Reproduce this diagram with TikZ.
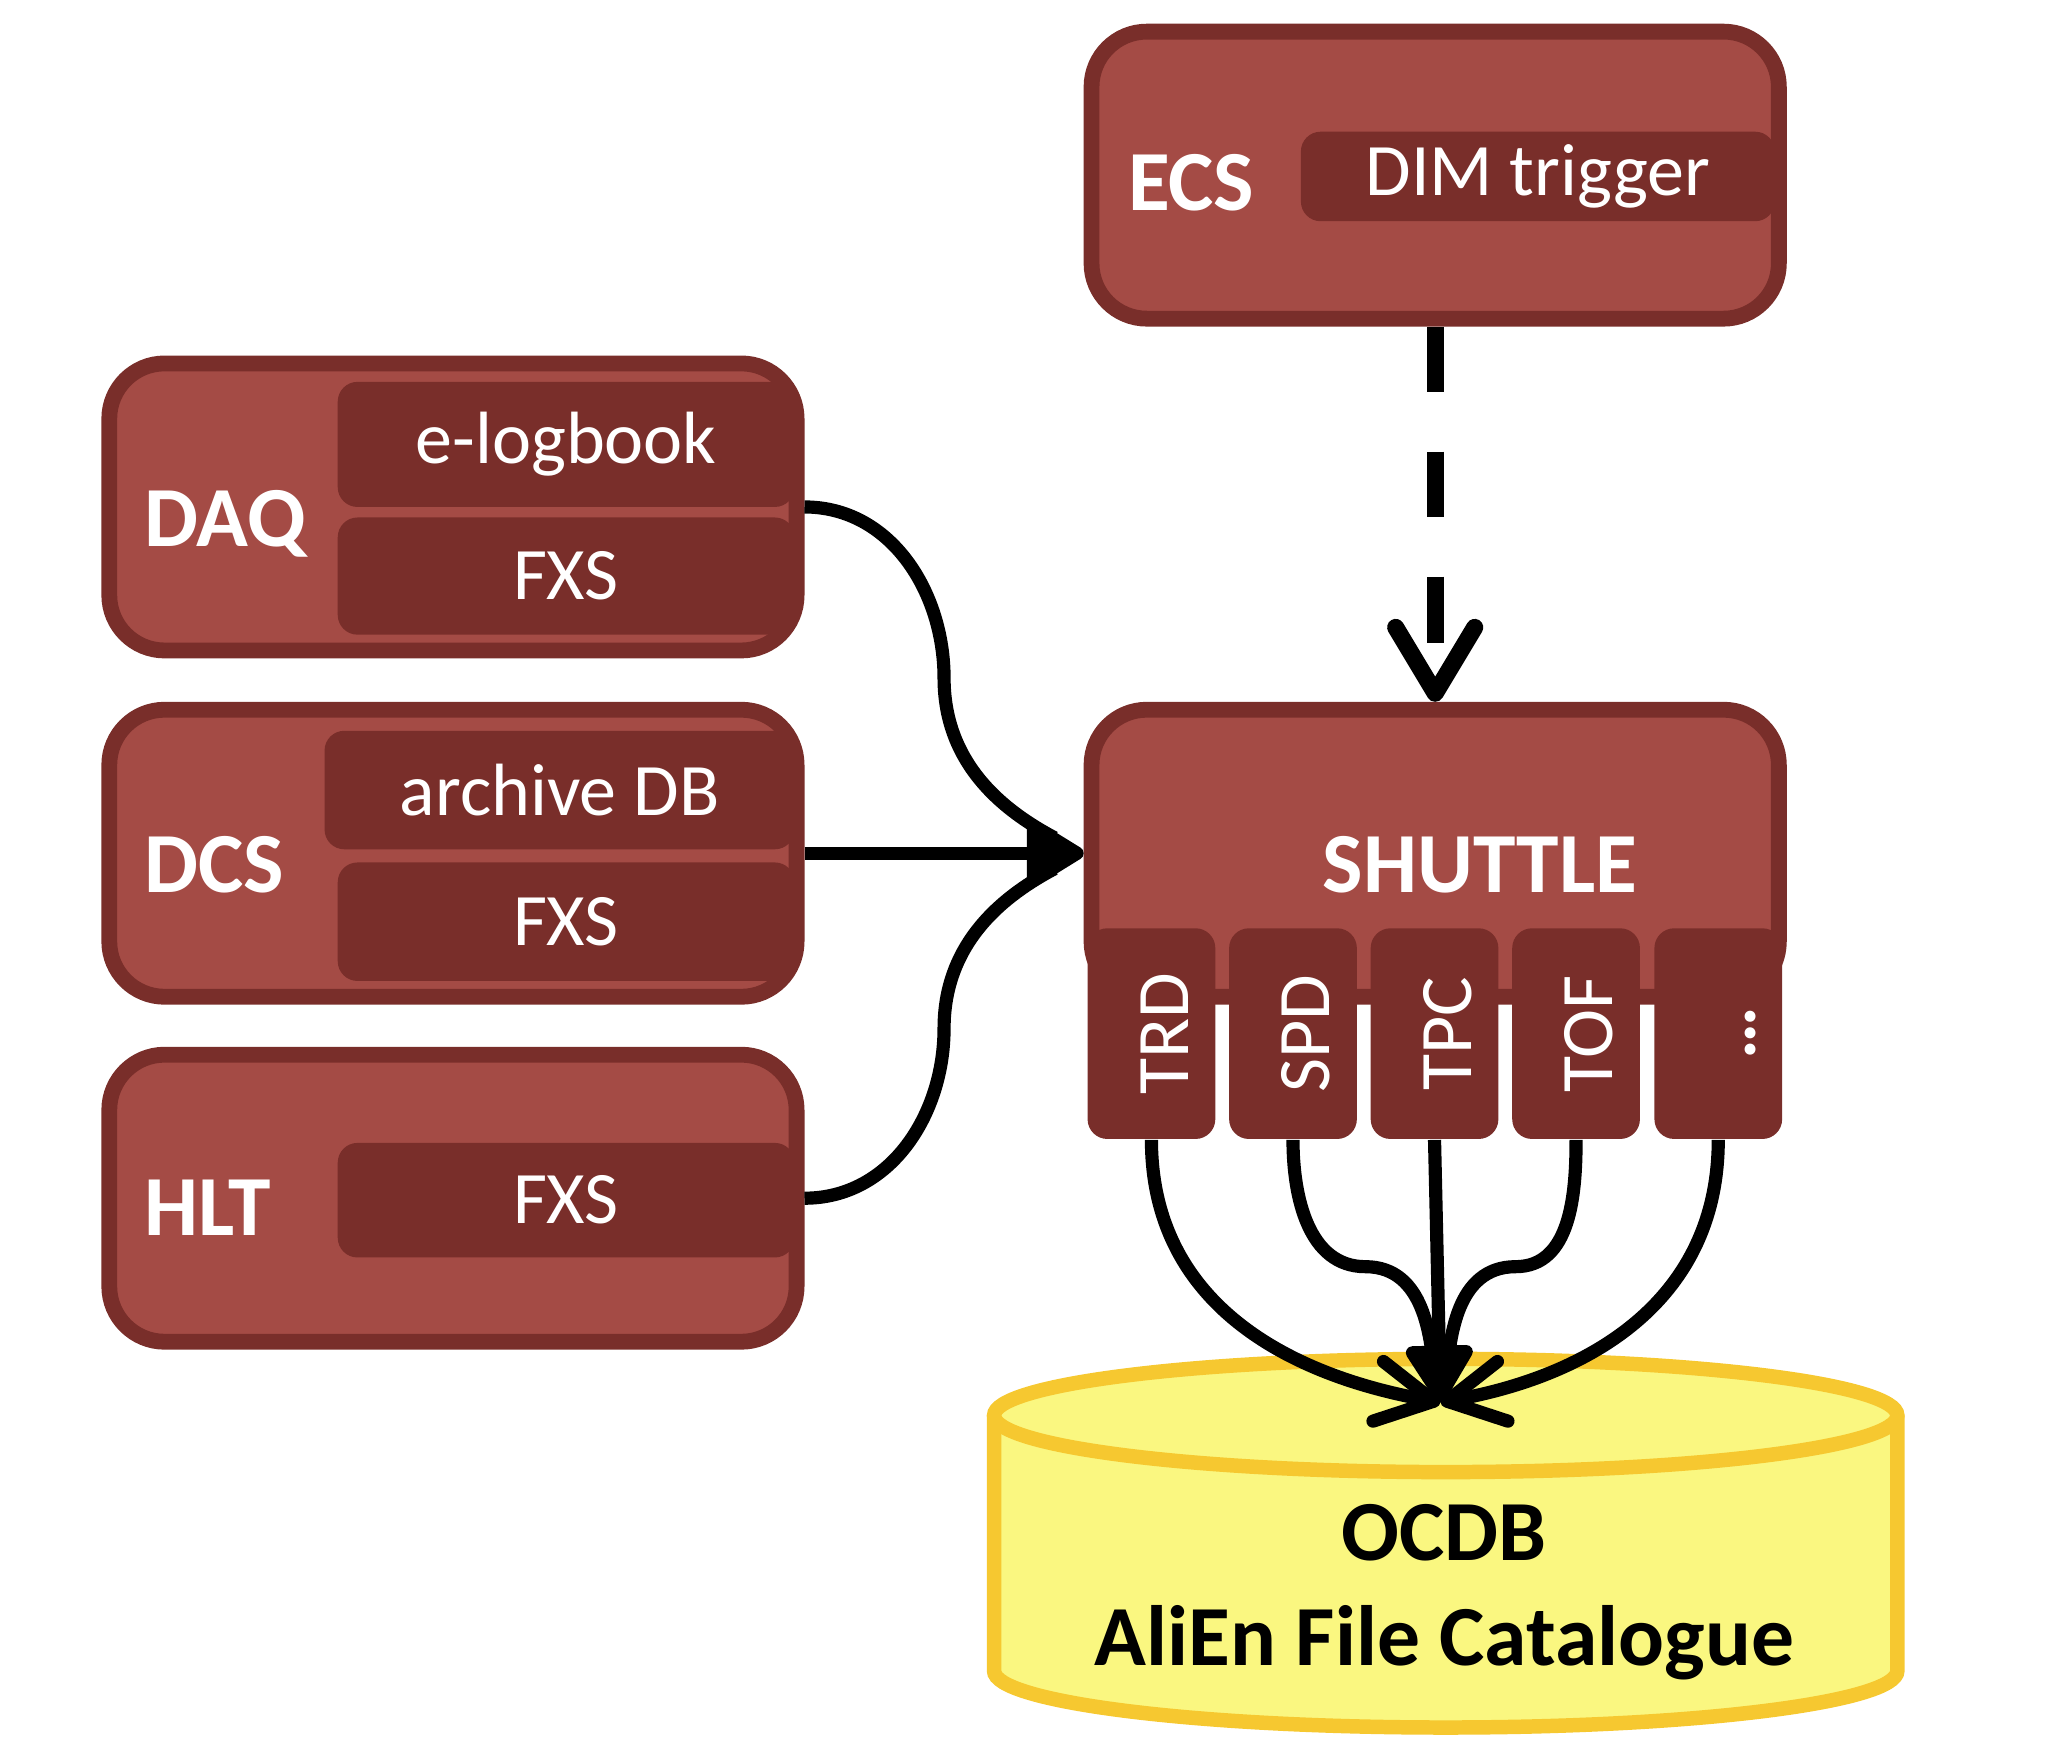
\documentclass[tikz,border=0pt]{standalone}
\usepackage{fontspec}
\setmainfont{Carlito}
\usetikzlibrary{arrows.meta}

\definecolor{brick}{HTML}{A44B45}
\definecolor{darkbrick}{HTML}{792E2A}
\definecolor{dbfill}{HTML}{FAF780}
\definecolor{dbline}{HTML}{F6C830}

\newcommand{\vlabel}[1]{\rotatebox{90}{\rule{0pt}{1em}#1}}

\begin{document}
\begin{tikzpicture}[
    outer/.style={draw=darkbrick,fill=brick,line width=0.12cm,rounded corners=0.42cm,
        minimum width=5.22cm,minimum height=2.18cm,inner sep=0pt},
    part/.style={fill=darkbrick,rounded corners=0.15cm,text=white,inner sep=0pt,
        minimum width=3.47cm,font=\fontsize{16}{19}\selectfont},
    title/.style={text=white,inner sep=0pt,anchor=base west,font=\fontsize{18.5}{22}\selectfont\bfseries},
    det/.style={fill=darkbrick,rounded corners=0.15cm,text=white,inner sep=0pt,
        minimum width=0.97cm,minimum height=1.60cm,font=\fontsize{16}{19}\selectfont},
    dbtext/.style={inner sep=0pt,anchor=base,font=\fontsize{18.5}{22}\selectfont\bfseries},
    link/.style={line width=0.10cm},
    vtip/.style={-{Straight Barb[length=4.3mm,width=4.6mm,round]}},
    ttip/.style={-{Triangle[length=4.8mm,width=5.6mm,round]}},
    ]
    \useasboundingbox (0,0) rectangle (15.6,-13.35);

    \node[outer] (ecs) at (10.90,-1.33) {};
    \node[title] (ecslabel) at (8.56,-1.60) {ECS};
    \node[part,minimum width=3.60cm,minimum height=0.68cm] (dimtrig) at (11.68,-1.34) {DIM trigger};

    \node[outer] (daq) at (3.44,-3.85) {};
    \node[title] (daqlabel) at (1.09,-4.15) {DAQ};
    \node[part,minimum height=0.95cm] (elog) at (4.30,-3.375) {e-logbook};
    \node[part,minimum height=0.89cm] (daqfxs) at (4.30,-4.375) {FXS};

    \node[outer] (dcs) at (3.44,-6.48) {};
    \node[title] (dcslabel) at (1.09,-6.78) {DCS};
    \node[part,minimum width=3.57cm,minimum height=0.90cm] (archdb) at (4.25,-6.00) {archive DB};
    \node[part,minimum height=0.90cm] (dcsfxs) at (4.30,-7.00) {FXS};

    \node[outer] (hlt) at (3.44,-9.10) {};
    \node[title] (hltlabel) at (1.09,-9.38) {HLT};
    \node[part,minimum height=0.87cm] (hltfxs) at (4.30,-9.115) {FXS};

    \node[outer] (shuttle) at (10.90,-6.48) {};
    \node[title,anchor=base] (shuttlelabel) at (11.24,-6.78) {SHUTTLE};
    \node[det] (trd) at (8.745,-7.85) {\vlabel{TRD}};
    \node[det] (spd) at (9.82,-7.85) {\vlabel{SPD}};
    \node[det] (tpc) at (10.895,-7.85) {\vlabel{TPC}};
    \node[det] (tof) at (11.97,-7.85) {\vlabel{TOF}};
    \node[det] (more) at (13.05,-7.85) {\vlabel{\bfseries …}};

    \fill[dbfill] (7.55,-10.75) -- (7.55,-12.69)
        arc[start angle=180,end angle=360,x radius=3.43cm,y radius=0.43cm]
        -- (14.41,-10.75)
        arc[start angle=0,end angle=180,x radius=3.43cm,y radius=0.43cm] -- cycle;
    \draw[dbline,line width=0.11cm] (7.55,-10.75) -- (7.55,-12.69)
        arc[start angle=180,end angle=360,x radius=3.43cm,y radius=0.43cm]
        -- (14.41,-10.75);
    \draw[dbline,line width=0.11cm] (10.98,-10.75) ellipse[x radius=3.43cm,y radius=0.43cm];
    \node[dbtext] (ocdb) at (10.97,-11.85) {OCDB};
    \node[dbtext] (alien) at (10.97,-12.65) {AliEn File Catalogue};

    \coordinate (tip) at (10.94,-10.65);
    \coordinate (daqbend) at (7.17,-5.15);
    \coordinate (hltbend) at (7.17,-7.81);
    \coordinate (spdknee) at (10.37,-9.62);
    \coordinate (tofknee) at (11.51,-9.62);

    \draw[line width=0.13cm,dash pattern=on 0.5cm off 0.45cm,
        -{Straight Barb[length=5mm,width=6mm,round]}] (ecs.south) -- (shuttle.north);

    \draw[link,shorten >=2.5mm] (daq.east) to[out=0,in=90] (daqbend) to[out=-90,in=152] (shuttle.west);
    \draw[link,shorten >=2.5mm] (hlt.east) to[out=0,in=-90] (hltbend) to[out=90,in=-152] (shuttle.west);
    \draw[link,ttip] (dcs.east) -- (shuttle.west);

    \draw[link,vtip] (trd.south) to[out=-90,in=170,looseness=1.05] (tip);
    \draw[link,vtip] (more.south) to[out=-90,in=10,looseness=1.05] (tip);
    \draw[link,shorten >=3mm] (spd.south) to[out=-90,in=180] (spdknee) to[out=0,in=100] (tip);
    \draw[link,shorten >=3mm] (tof.south) to[out=-90,in=0] (tofknee) to[out=180,in=80] (tip);
    \draw[link,ttip] (tpc.south) -- (tip);
\end{tikzpicture}
\end{document}
